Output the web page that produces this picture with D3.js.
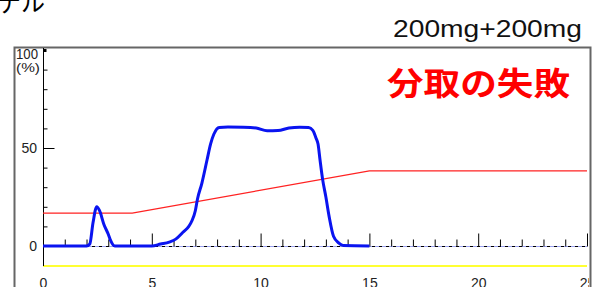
<!DOCTYPE html>
<meta charset="utf-8">
<style>
body { margin: 0; background: #fff; }
svg { display: block; }
.lbl { font-family: "Liberation Sans", Arial, sans-serif; fill: #222; }
</style>
<body>
<script src="https://d3js.org/d3.v7.min.js"></script>
<script>

// time (min) and % values
var blueTime = [0, 2.0, 2.15, 2.3, 2.47, 2.6, 2.8, 3.0, 3.1, 3.3, 5.0, 5.4, 5.8, 6.1, 6.43, 6.7, 6.85, 7.0, 7.1, 7.3, 7.54, 7.7, 7.85, 8.1, 8.5, 9.2, 9.8, 10.3, 10.8, 11.3, 11.8, 12.2, 12.4, 12.55, 12.64, 12.73, 12.85, 13.0, 13.15, 13.35, 13.6, 13.8, 15.0];
var blueVal  = [0, 0,   1,    12,  20,   18,  11,  6,   3,   0,   0,   1,   2,   3.5, 7,    10,  13,   18,  24,  32,  44,   52,  57,   60.5, 60.7, 60.6, 60.2, 58.8, 58.9, 60.2, 60.6, 60.4, 59,  55,    52,    44,    34,    25,   15,    5,    1.5,  0.2, 0];

var redTime = [0, 4.1, 15, 25];
var redVal  = [16.8, 16.8, 38.3, 38.3];

var xTicks = d3.range(0, 26);
var xLabels = [0, 5, 10, 15, 20, 25];
var yTicks = d3.range(0, 101, 10);
var yLabels = ["0", "50"];

var W = 593, H = 287;
var svg = d3.select("body").append("svg").attr("width", W).attr("height", H);

var x = d3.scaleLinear().domain([0, 25]).range([43, 587]);
var y = d3.scaleLinear().domain([0, 100]).range([246, 50]);

// title fragments
svg.append("text")
    .attr("x", -3).attr("y", 12)
    .attr("textLength", 48).attr("lengthAdjust", "spacingAndGlyphs")
    .style("font-family", "'Noto Sans CJK JP', sans-serif")
    .style("font-size", "26px")
    .text("テル");

svg.append("text")
    .attr("class", "lbl")
    .attr("x", 393).attr("y", 37)
    .attr("textLength", 189).attr("lengthAdjust", "spacingAndGlyphs")
    .style("font-size", "23px").style("fill", "#111")
    .text("200mg+200mg");

// outer frame
svg.append("path")
    .attr("d", "M14.5,287 V47.5 H590.5 V287")
    .attr("fill", "none").attr("stroke", "#666").attr("stroke-width", 2);

svg.append("clipPath").attr("id", "c")
  .append("rect").attr("x", 15).attr("y", 48).attr("width", 574).attr("height", 239);

var g = svg.append("g").attr("clip-path", "url(#c)");

// red label
g.append("text")
    .attr("x", 387).attr("y", 95)
    .attr("textLength", 183).attr("lengthAdjust", "spacingAndGlyphs")
    .style("font-family", "'Noto Sans CJK JP', sans-serif")
    .style("font-weight", "bold").style("font-size", "32px")
    .style("fill", "#ff0000")
    .text("分取の失敗");

// yellow line
g.append("line")
    .attr("x1", x(0)).attr("x2", x(25))
    .attr("y1", 266).attr("y2", 266)
    .attr("stroke", "#ffff33").attr("stroke-width", 2);

// baseline: light blue with black dashes
g.append("line")
    .attr("x1", x(0)).attr("x2", x(25)).attr("y1", y(0) + 0.5).attr("y2", y(0) + 0.5)
    .attr("stroke", "#9aa0ee").attr("stroke-width", 1);
g.append("line")
    .attr("x1", x(0)).attr("x2", x(25)).attr("y1", y(0) + 0.5).attr("y2", y(0) + 0.5)
    .attr("stroke", "#000").attr("stroke-width", 1).attr("stroke-dasharray", "3,4");

// x ticks
var xAxis = g.append("g")
    .attr("transform", "translate(0," + (y(0) + 0.5) + ")")
    .call(d3.axisTop(x).tickValues(xTicks).tickSize(7).tickFormat(""));
xAxis.select(".domain").remove();
xAxis.selectAll(".tick line")
    .attr("y2", function(d) { return d % 5 === 0 ? -13 : -7; })
    .attr("stroke", "#000");
xAxis.selectAll(".tick").filter(function(d) { return d === 0; }).remove();

// x labels
var xLab = g.append("g")
    .attr("transform", "translate(0,275)")
    .call(d3.axisBottom(x).tickValues(xLabels).tickSize(0));
xLab.select(".domain").remove();
xLab.selectAll("text").attr("class", "lbl").attr("dy", "0.71em")
    .style("font-size", "14px").attr("font-family", null);

// y axis
var yAxis = g.append("g")
    .attr("transform", "translate(43.5,0)")
    .call(d3.axisRight(y).tickValues(yTicks).tickSize(4).tickFormat(""));
yAxis.select(".domain")
    .attr("d", "M0,48V266").attr("stroke", "#000");
yAxis.selectAll(".tick line")
    .attr("x2", function(d) { return d === 50 ? 11 : 4; })
    .attr("stroke", "#000");
yAxis.selectAll(".tick").filter(function(d) { return d === 100; }).select("line")
    .attr("stroke-width", 3).attr("x2", 3);

// y labels
g.selectAll(".ylab").data(yLabels).enter().append("text")
    .attr("class", "lbl")
    .attr("x", 37).attr("y", function(d) { return y(+d) + 5; })
    .attr("text-anchor", "end")
    .style("font-size", "14px")
    .text(function(d) { return d; });
g.append("text").attr("class", "lbl").attr("x", 16).attr("y", 59)
    .attr("textLength", 22).attr("lengthAdjust", "spacingAndGlyphs")
    .style("font-size", "14px").text("100");
g.append("text").attr("class", "lbl").attr("x", 16).attr("y", 72)
    .attr("textLength", 24).attr("lengthAdjust", "spacingAndGlyphs")
    .style("font-size", "13px").text("(%)");

// red line
var redData = redTime.map(function(t, i) { return [t, redVal[i]]; });
g.append("path")
    .datum(redData)
    .attr("fill", "none").attr("stroke", "#ff2222").attr("stroke-width", 1.2)
    .attr("d", d3.line().x(function(d) { return x(d[0]); }).y(function(d) { return y(d[1]); }));

// blue line
var blueData = blueTime.map(function(t, i) { return [t, blueVal[i]]; });
g.append("path")
    .datum(blueData)
    .attr("fill", "none").attr("stroke", "#0a14f0").attr("stroke-width", 3)
    .attr("stroke-linejoin", "round")
    .attr("d", d3.line().curve(d3.curveMonotoneX)
        .x(function(d) { return x(d[0]); }).y(function(d) { return y(d[1]); }));

</script>
</body>
